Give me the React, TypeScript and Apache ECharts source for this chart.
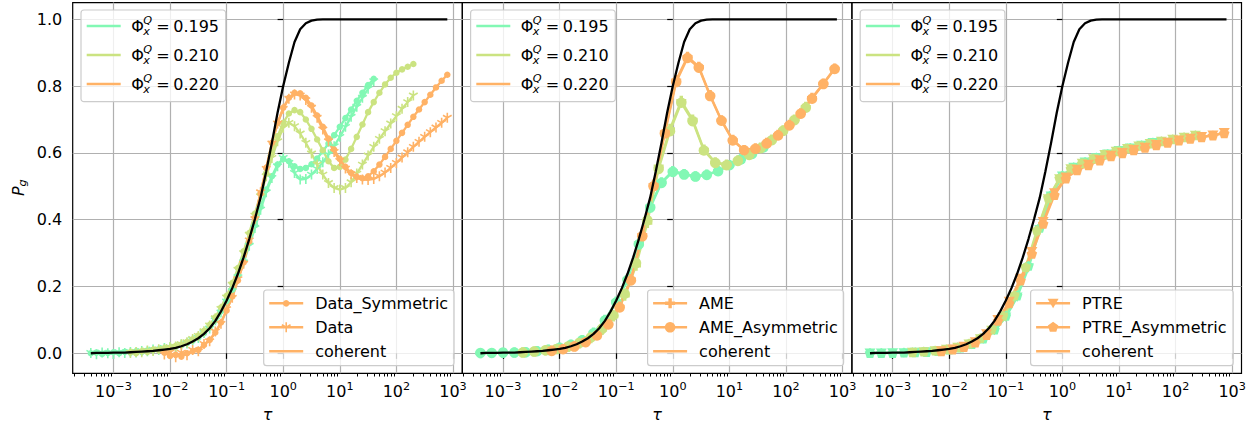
import React, { useEffect, useRef } from "react";
import * as echarts from "echarts";

const FONT = "DejaVu Sans";
const FS = 16;
const FS_SMALL = 11.2;
const COL_G = "#82f8b4"; // Phi = 0.195
const COL_Y = "#cbe381"; // Phi = 0.210
const COL_O = "#ffb266"; // Phi = 0.220
const COLORS = [COL_G, COL_Y, COL_O];
const phiLabels = ["0.195", "0.210", "0.220"];

const xTickExps = [-3, -2, -1, 0, 1, 2, 3];
const yTicks = [0, 0.2, 0.4, 0.6, 0.8, 1.0];

// ---- Panel 1 (and coherent) : log10(tau) grid ----
const logTauP1 = [
  -3.4, -3.3, -3.2, -3.1, -3.0, -2.9, -2.8, -2.7, -2.6, -2.5,
  -2.4, -2.3, -2.2, -2.1, -2.0, -1.9, -1.8, -1.7, -1.6, -1.5,
  -1.4, -1.3, -1.2, -1.1, -1.0, -0.9, -0.8, -0.7, -0.6, -0.5,
  -0.4, -0.3, -0.2, -0.1, 0.0, 0.1, 0.2, 0.3, 0.4, 0.5,
  0.6, 0.7, 0.8, 0.9, 1.0, 1.1, 1.2, 1.3, 1.4, 1.5,
  1.6, 1.7, 1.8, 1.9, 2.0, 2.1, 2.2, 2.3, 2.4, 2.5,
  2.6, 2.7, 2.8, 2.9,
];

const coherent = [
  0.000, 0.001, 0.001, 0.001, 0.002, 0.002, 0.002, 0.003, 0.004, 0.005,
  0.006, 0.007, 0.009, 0.011, 0.013, 0.016, 0.021, 0.027, 0.035, 0.045,
  0.058, 0.075, 0.097, 0.125, 0.158, 0.195, 0.238, 0.287, 0.342, 0.402,
  0.466, 0.545, 0.630, 0.720, 0.800, 0.870, 0.932, 0.970, 0.988, 0.996,
  0.999, 1.0, 1.0, 1.0, 1.0, 1.0, 1.0, 1.0, 1.0, 1.0,
  1.0, 1.0, 1.0, 1.0, 1.0, 1.0, 1.0, 1.0, 1.0, 1.0,
  1.0, 1.0, 1.0, 1.0,
];

const dataSymG = [
  0.000, 0.002, -0.002, 0.001, 0.003, 0.000, 0.004, 0.002, 0.006, 0.004,
  0.008, 0.010, 0.012, 0.015, 0.016, 0.020, 0.024, 0.030, 0.038, 0.047,
  0.060, 0.077, 0.098, 0.126, 0.157, 0.190, 0.232, 0.278, 0.330, 0.385,
  0.440, 0.490, 0.530, 0.565, 0.582, 0.575, 0.560, 0.552, 0.555, 0.566,
  0.583, 0.605, 0.628, 0.653, 0.678, 0.704, 0.730, 0.756, 0.780, 0.803,
  0.822, null, null, null, null, null, null, null, null, null,
  null, null, null, null,
];
const dataG = [
  0.001, -0.003, 0.002, 0.000, -0.002, 0.003, 0.001, 0.004, 0.002, 0.007,
  0.006, 0.011, 0.010, 0.016, 0.018, 0.019, 0.026, 0.029, 0.040, 0.046,
  0.061, 0.074, 0.099, 0.122, 0.155, 0.186, 0.228, 0.272, 0.322, 0.375,
  0.430, 0.482, 0.525, 0.560, 0.585, 0.570, 0.540, 0.520, 0.522, 0.535,
  0.552, 0.572, 0.595, 0.620, 0.648, 0.678, 0.708, 0.738, 0.765, 0.792,
  0.815, null, null, null, null, null, null, null, null, null,
  null, null, null, null,
];
const dataSymY = [
  null, null, null, null, null, null, null, 0.003, 0.000, 0.006,
  0.004, 0.010, 0.009, 0.015, 0.016, 0.022, 0.026, 0.034, 0.042, 0.053,
  0.067, 0.085, 0.108, 0.137, 0.172, 0.210, 0.255, 0.305, 0.360, 0.418,
  0.478, 0.540, 0.600, 0.650, 0.690, 0.718, 0.728, 0.722, 0.700, 0.672,
  0.640, 0.608, 0.575, 0.555, 0.558, 0.580, 0.612, 0.648, 0.685, 0.722,
  0.752, 0.780, 0.805, 0.825, 0.840, 0.850, 0.858, 0.866, null, null,
  null, null, null, null,
];
const dataY = [
  null, null, null, null, null, null, null, 0.001, 0.004, 0.003,
  0.008, 0.007, 0.012, 0.013, 0.018, 0.020, 0.027, 0.033, 0.043, 0.052,
  0.066, 0.083, 0.105, 0.133, 0.167, 0.205, 0.250, 0.300, 0.355, 0.412,
  0.470, 0.530, 0.585, 0.635, 0.675, 0.690, 0.680, 0.658, 0.630, 0.598,
  0.565, 0.535, 0.510, 0.495, 0.490, 0.495, 0.512, 0.538, 0.565, 0.592,
  0.618, 0.642, 0.665, 0.688, 0.710, 0.732, 0.752, 0.772, null, null,
  null, null, null, null,
];
const dataSymO = [
  null, null, null, null, null, null, null, null, null, null,
  null, null, null, 0.002, -0.008, -0.004, -0.010, 0.000, 0.006, 0.010,
  0.025, 0.040, 0.062, 0.092, 0.128, 0.170, 0.218, 0.272, 0.335, 0.405,
  0.478, 0.555, 0.630, 0.690, 0.735, 0.765, 0.780, 0.778, 0.765, 0.742,
  0.712, 0.678, 0.643, 0.610, 0.582, 0.558, 0.540, 0.528, 0.524, 0.530,
  0.545, 0.565, 0.588, 0.612, 0.636, 0.660, 0.684, 0.708, 0.730, 0.752,
  0.774, 0.796, 0.816, 0.834,
];
const dataO = [
  null, null, null, null, null, null, null, null, null, null,
  null, null, null, -0.004, 0.003, -0.012, 0.002, -0.006, 0.010, 0.006,
  0.028, 0.036, 0.065, 0.088, 0.132, 0.166, 0.222, 0.268, 0.338, 0.402,
  0.482, 0.552, 0.628, 0.688, 0.732, 0.762, 0.775, 0.772, 0.758, 0.735,
  0.705, 0.670, 0.635, 0.603, 0.576, 0.553, 0.536, 0.525, 0.520, 0.519,
  0.522, 0.530, 0.541, 0.555, 0.570, 0.586, 0.602, 0.618, 0.633, 0.648,
  0.662, 0.676, 0.690, 0.705,
];

// ---- Panels 2 and 3 : coarser log10(tau) grids per Phi ----
const logTauG = [-3.4, -3.2, -3.0, -2.8, -2.6, -2.4, -2.2, -2.0, -1.8, -1.6, -1.4, -1.2, -1.0, -0.8, -0.6, -0.4, -0.2, 0.0, 0.2, 0.4, 0.6, 0.8, 1.0, 1.2, 1.4, 1.6];
const logTauY = [-2.65, -2.45, -2.25, -2.05, -1.85, -1.65, -1.45, -1.25, -1.05, -0.85, -0.65, -0.45, -0.25, -0.05, 0.15, 0.35, 0.55, 0.75, 0.95, 1.15, 1.35, 1.55, 1.75, 1.95, 2.15, 2.35];
const logTauO = [-2.14, -1.94, -1.74, -1.54, -1.34, -1.14, -0.94, -0.74, -0.54, -0.34, -0.14, 0.06, 0.26, 0.46, 0.66, 0.86, 1.06, 1.26, 1.46, 1.66, 1.86, 2.06, 2.26, 2.46, 2.66, 2.86];

const ameG = [0.000, 0.001, 0.001, 0.002, 0.003, 0.007, 0.011, 0.017, 0.026, 0.040, 0.062, 0.100, 0.155, 0.222, 0.330, 0.440, 0.512, 0.546, 0.537, 0.530, 0.535, 0.546, 0.564, 0.581, 0.598, 0.618];
const ameAsymG = [0.001, 0.001, 0.002, 0.002, 0.003, 0.006, 0.010, 0.016, 0.025, 0.039, 0.060, 0.098, 0.152, 0.219, 0.326, 0.436, 0.510, 0.543, 0.535, 0.529, 0.534, 0.545, 0.563, 0.580, 0.597, 0.616];
const ameY = [0.003, 0.005, 0.008, 0.012, 0.019, 0.029, 0.045, 0.070, 0.110, 0.172, 0.262, 0.390, 0.560, 0.672, 0.756, 0.700, 0.610, 0.572, 0.565, 0.578, 0.596, 0.616, 0.640, 0.668, 0.700, 0.738];
const ameAsymY = [0.002, 0.005, 0.009, 0.013, 0.020, 0.031, 0.047, 0.073, 0.114, 0.178, 0.270, 0.398, 0.552, 0.665, 0.750, 0.695, 0.607, 0.570, 0.563, 0.576, 0.594, 0.614, 0.638, 0.666, 0.698, 0.735];
const ameO = [0.008, 0.013, 0.021, 0.034, 0.055, 0.088, 0.140, 0.222, 0.355, 0.505, 0.663, 0.818, 0.888, 0.858, 0.773, 0.698, 0.639, 0.609, 0.614, 0.630, 0.654, 0.684, 0.719, 0.765, 0.808, 0.853];
const ameAsymO = [0.007, 0.012, 0.020, 0.033, 0.053, 0.086, 0.137, 0.218, 0.350, 0.500, 0.658, 0.812, 0.884, 0.855, 0.770, 0.696, 0.637, 0.608, 0.612, 0.628, 0.652, 0.682, 0.717, 0.762, 0.806, 0.851];

const ptreG = [0.000, 0.000, 0.001, 0.001, 0.002, 0.004, 0.006, 0.010, 0.016, 0.026, 0.042, 0.068, 0.108, 0.168, 0.255, 0.370, 0.470, 0.530, 0.556, 0.572, 0.585, 0.596, 0.606, 0.614, 0.622, 0.630];
const ptreAsymG = [0.001, 0.001, 0.001, 0.002, 0.003, 0.004, 0.007, 0.011, 0.017, 0.028, 0.044, 0.071, 0.112, 0.173, 0.262, 0.376, 0.474, 0.532, 0.557, 0.573, 0.586, 0.597, 0.607, 0.615, 0.623, 0.631];
const ptreY = [0.002, 0.004, 0.007, 0.011, 0.017, 0.027, 0.043, 0.068, 0.108, 0.168, 0.252, 0.362, 0.462, 0.522, 0.552, 0.568, 0.582, 0.594, 0.604, 0.612, 0.620, 0.627, 0.634, 0.640, 0.646, 0.652];
const ptreAsymY = [0.003, 0.005, 0.008, 0.012, 0.018, 0.029, 0.046, 0.072, 0.112, 0.174, 0.258, 0.368, 0.466, 0.524, 0.553, 0.569, 0.583, 0.595, 0.605, 0.613, 0.621, 0.628, 0.635, 0.641, 0.647, 0.653];
const ptreO = [0.007, 0.012, 0.020, 0.034, 0.058, 0.100, 0.155, 0.224, 0.304, 0.394, 0.480, 0.527, 0.550, 0.565, 0.579, 0.592, 0.600, 0.609, 0.616, 0.624, 0.631, 0.638, 0.643, 0.648, 0.653, 0.660];
const ptreAsymO = [0.006, 0.011, 0.019, 0.032, 0.055, 0.097, 0.150, 0.218, 0.298, 0.388, 0.474, 0.523, 0.548, 0.563, 0.577, 0.590, 0.599, 0.608, 0.615, 0.623, 0.630, 0.637, 0.642, 0.647, 0.652, 0.659];

// ---- layout ----
const GRID_LEFT = [72.7, 462.3, 851.9];
const GRID_W = 389.6;
const GRID_TOP = 2.6;
const GRID_H = 370.7;
const X_MIN = -3.72;
const X_MAX = 3.165;
const Y_MIN = -0.06;
const Y_MAX = 1.05;

const SYM = {
  tri: "path://M5,0L5,10M5,5L0.67,2.5M5,5L9.33,2.5",
  plus: "path://M3.3,0H6.7V3.3H10V6.7H6.7V10H3.3V6.7H0V3.3H3.3Z",
  tridown: "path://M0,0H10L5,8.66Z",
  penta: "path://M5,0L9.76,3.45L7.94,9.05H2.06L0.24,3.45Z",
};

function minorTickValues(): number[] {
  const out: number[] = [];
  for (let n = -4; n <= 3; n++) {
    for (let k = 2; k <= 9; k++) {
      const v = n + Math.log10(k);
      if (v > X_MIN && v < X_MAX) out.push(v);
    }
  }
  return out;
}

function pairs(xs: number[], ys: (number | null)[]) {
  const out: number[][] = [];
  xs.forEach((x, i) => {
    const y = ys[i];
    if (y !== null && y !== undefined) out.push([x, y]);
  });
  return out;
}

function lineSeries(grid: number, xs: number[], ys: (number | null)[], color: string, symbol: string, size: number | number[], stroke = false, z = 2) {
  return {
    type: "line",
    xAxisIndex: grid * 2,
    yAxisIndex: grid,
    data: pairs(xs, ys),
    symbol,
    symbolSize: size,
    symbolKeepAspect: true,
    showSymbol: symbol !== "none",
    lineStyle: { color, width: 2.3 },
    itemStyle: stroke ? { color, borderColor: color, borderWidth: 1.6 } : { color, borderWidth: 0 },
    silent: true,
    z,
  };
}

function buildSeries() {
  const s: any[] = [];
  // Panel 1
  const sym1 = [dataSymG, dataSymY, dataSymO];
  const dat1 = [dataG, dataY, dataO];
  for (let c = 0; c < 3; c++) {
    s.push(lineSeries(0, logTauP1, sym1[c], COLORS[c], "circle", 6.5));
    s.push(lineSeries(0, logTauP1, dat1[c], COLORS[c], SYM.tri, 10, true));
  }
  // Panel 2
  const grids = [logTauG, logTauY, logTauO];
  const ame = [ameG, ameY, ameO];
  const ameA = [ameAsymG, ameAsymY, ameAsymO];
  for (let c = 0; c < 3; c++) {
    s.push(lineSeries(1, grids[c], ame[c], COLORS[c], SYM.plus, 10));
    s.push(lineSeries(1, grids[c], ameA[c], COLORS[c], "circle", 10.5));
  }
  // Panel 3
  const pt = [ptreG, ptreY, ptreO];
  const ptA = [ptreAsymG, ptreAsymY, ptreAsymO];
  for (let c = 0; c < 3; c++) {
    s.push(lineSeries(2, grids[c], pt[c], COLORS[c], SYM.tridown, 11));
    s.push(lineSeries(2, grids[c], ptA[c], COLORS[c], SYM.penta, 10.5));
  }
  // coherent, black, on top in every panel
  for (let g = 0; g < 3; g++) {
    s.push({
      type: "line",
      xAxisIndex: g * 2,
      yAxisIndex: g,
      data: pairs(logTauP1, coherent),
      symbol: "none",
      showSymbol: false,
      lineStyle: { color: "#000", width: 2.3 },
      silent: true,
      z: 5,
    });
  }
  return s;
}

function txt(x: number, y: number, text: string, opts: any = {}) {
  return {
    type: "text",
    x,
    y,
    z: 20,
    style: {
      text,
      fontFamily: FONT,
      fontSize: opts.fontSize ?? FS,
      fontStyle: opts.italic ? "italic" : "normal",
      fill: "#000",
      align: opts.align ?? "left",
      verticalAlign: "middle",
    },
  };
}

function legendMarker(kind: string, cx: number, cy: number, color: string): any[] {
  const z = 21;
  if (kind === "circleS") return [{ type: "circle", z, shape: { cx, cy, r: 3.3 }, style: { fill: color } }];
  if (kind === "circleL") return [{ type: "circle", z, shape: { cx, cy, r: 5.3 }, style: { fill: color } }];
  if (kind === "tri") {
    const r = 5;
    return [
      { type: "line", z, shape: { x1: cx, y1: cy, x2: cx - 0.87 * r, y2: cy - 0.5 * r }, style: { stroke: color, lineWidth: 1.6 } },
      { type: "line", z, shape: { x1: cx, y1: cy, x2: cx + 0.87 * r, y2: cy - 0.5 * r }, style: { stroke: color, lineWidth: 1.6 } },
      { type: "line", z, shape: { x1: cx, y1: cy - 5, x2: cx, y2: cy + 5 }, style: { stroke: color, lineWidth: 1.6 } },
    ];
  }
  if (kind === "plus") {
    const a = 1.7, b = 5;
    const pts = [[-a, -b], [a, -b], [a, -a], [b, -a], [b, a], [a, a], [a, b], [-a, b], [-a, a], [-b, a], [-b, -a], [-a, -a]].map(([x, y]) => [cx + x, cy + y]);
    return [{ type: "polygon", z, shape: { points: pts }, style: { fill: color } }];
  }
  if (kind === "tridown") {
    return [{ type: "polygon", z, shape: { points: [[cx - 5.5, cy - 4.5], [cx + 5.5, cy - 4.5], [cx, cy + 5]] }, style: { fill: color } }];
  }
  if (kind === "penta") {
    const r = 5.5;
    const pts: number[][] = [];
    for (let k = 0; k < 5; k++) {
      const a = -Math.PI / 2 + (k * 2 * Math.PI) / 5;
      pts.push([cx + r * Math.cos(a), cy + r * Math.sin(a)]);
    }
    return [{ type: "polygon", z, shape: { points: pts }, style: { fill: color } }];
  }
  return [];
}

const legendTexts = [
  ["Data_Symmetric", "Data", "coherent"],
  ["AME", "AME_Asymmetric", "coherent"],
  ["PTRE", "PTRE_Asymmetric", "coherent"],
];
const legendMarkers = [
  ["circleS", "tri", "none"],
  ["plus", "circleL", "none"],
  ["tridown", "penta", "none"],
];
const legendWidths = [190.3, 196, 202.6];

function buildGraphics() {
  const g: any[] = [];
  for (let p = 0; p < 3; p++) {
    const px = GRID_LEFT[p];
    // top-left legend
    g.push({
      type: "rect", z: 19,
      shape: { x: px + 8.3, y: 10, width: 144.7, height: 91.7, r: 3 },
      style: { fill: "rgba(255,255,255,0.8)", stroke: "#cccccc", lineWidth: 1.2 },
    });
    for (let i = 0; i < 3; i++) {
      const yc = 26 + 29 * i;
      g.push({ type: "line", z: 20, shape: { x1: px + 14, y1: yc, x2: px + 48, y2: yc }, style: { stroke: COLORS[i], lineWidth: 2.4 } });
      g.push(txt(px + 58.5, yc, "\u03A6"));
      g.push(txt(px + 70.5, yc - 6, "Q", { italic: true, fontSize: FS_SMALL }));
      g.push(txt(px + 70.5, yc + 5.5, "x", { italic: true, fontSize: FS_SMALL }));
      g.push(txt(px + 83.5, yc, "="));
      g.push(txt(px + 100.5, yc, phiLabels[i]));
    }
    // bottom-right legend
    const w = legendWidths[p];
    const bx = px + GRID_W - 8.3 - w;
    g.push({
      type: "rect", z: 19,
      shape: { x: bx, y: 290, width: w, height: 75.7, r: 3 },
      style: { fill: "rgba(255,255,255,0.8)", stroke: "#cccccc", lineWidth: 1.2 },
    });
    for (let i = 0; i < 3; i++) {
      const yc = 303.3 + 24 * i;
      g.push({ type: "line", z: 20, shape: { x1: bx + 5.5, y1: yc, x2: bx + 39.5, y2: yc }, style: { stroke: COL_O, lineWidth: 2.4 } });
      g.push(...legendMarker(legendMarkers[p][i], bx + 22.5, yc, COL_O));
      g.push(txt(bx + 51.5, yc, legendTexts[p][i]));
    }
    // x-axis title
    g.push(txt(px + GRID_W / 2, 414, "\u03C4", { italic: true, align: "center" }));
  }
  // y-axis title P_g (rotated)
  g.push({
    type: "group",
    x: 18,
    y: 190,
    rotation: Math.PI / 2,
    children: [
      txt(-6, 0, "P", { italic: true }),
      txt(3.5, 4, "g", { italic: true, fontSize: FS_SMALL }),
    ],
  });
  return g;
}

function buildOption() {
  const grid: any[] = [];
  const xAxis: any[] = [];
  const yAxis: any[] = [];
  const minor = minorTickValues();
  for (let i = 0; i < 3; i++) {
    grid.push({
      left: GRID_LEFT[i], top: GRID_TOP, width: GRID_W, height: GRID_H,
      show: true, borderColor: "#000", borderWidth: 1.2, backgroundColor: "transparent",
    });
    xAxis.push({
      type: "value", gridIndex: i, min: X_MIN, max: X_MAX, position: "bottom",
      axisLine: { show: false },
      axisTick: { show: true, customValues: xTickExps, length: 5.6, lineStyle: { color: "#000", width: 1.2 } },
      axisLabel: {
        show: true,
        customValues: xTickExps,
        margin: 8,
        formatter: (v: number) => `{b|10}{s|${v < 0 ? "\u2212" + Math.abs(v) : String(v)}}`,
        rich: {
          b: { fontSize: FS, fontFamily: FONT, color: "#000", lineHeight: 20 },
          s: { fontSize: FS_SMALL, fontFamily: FONT, color: "#000", lineHeight: 12, verticalAlign: "top" },
        },
      },
      splitLine: { show: true, lineStyle: { color: "#b0b0b0", width: 1.2 } },
    });
    xAxis.push({
      type: "value", gridIndex: i, min: X_MIN, max: X_MAX, position: "bottom",
      axisLine: { show: false },
      axisTick: { show: true, customValues: minor, length: 3.2, lineStyle: { color: "#000", width: 1 } },
      axisLabel: { show: false },
      splitLine: { show: false },
    });
    yAxis.push({
      type: "value", gridIndex: i, min: Y_MIN, max: Y_MAX, position: "left",
      axisLine: { show: false },
      axisTick: { show: true, customValues: yTicks, length: 5.6, lineStyle: { color: "#000", width: 1.2 } },
      axisLabel: {
        show: i === 0,
        customValues: yTicks,
        margin: 10.5,
        formatter: (v: number) => v.toFixed(1),
        fontSize: FS, fontFamily: FONT, color: "#000",
      },
      splitLine: { show: true, lineStyle: { color: "#b0b0b0", width: 1.2 } },
    });
  }
  return {
    animation: false,
    backgroundColor: "#fff",
    grid,
    xAxis,
    yAxis,
    series: buildSeries(),
    graphic: buildGraphics(),
  };
}

export default function App() {
  const ref = useRef<HTMLDivElement>(null);
  useEffect(() => {
    if (!ref.current) return;
    const chart = echarts.init(ref.current, null, { renderer: "svg" });
    chart.setOption(buildOption() as any);
    return () => chart.dispose();
  }, []);
  return <div ref={ref} style={{ position: "absolute", left: 0, top: 0, width: 1260, height: 426 }} />;
}
